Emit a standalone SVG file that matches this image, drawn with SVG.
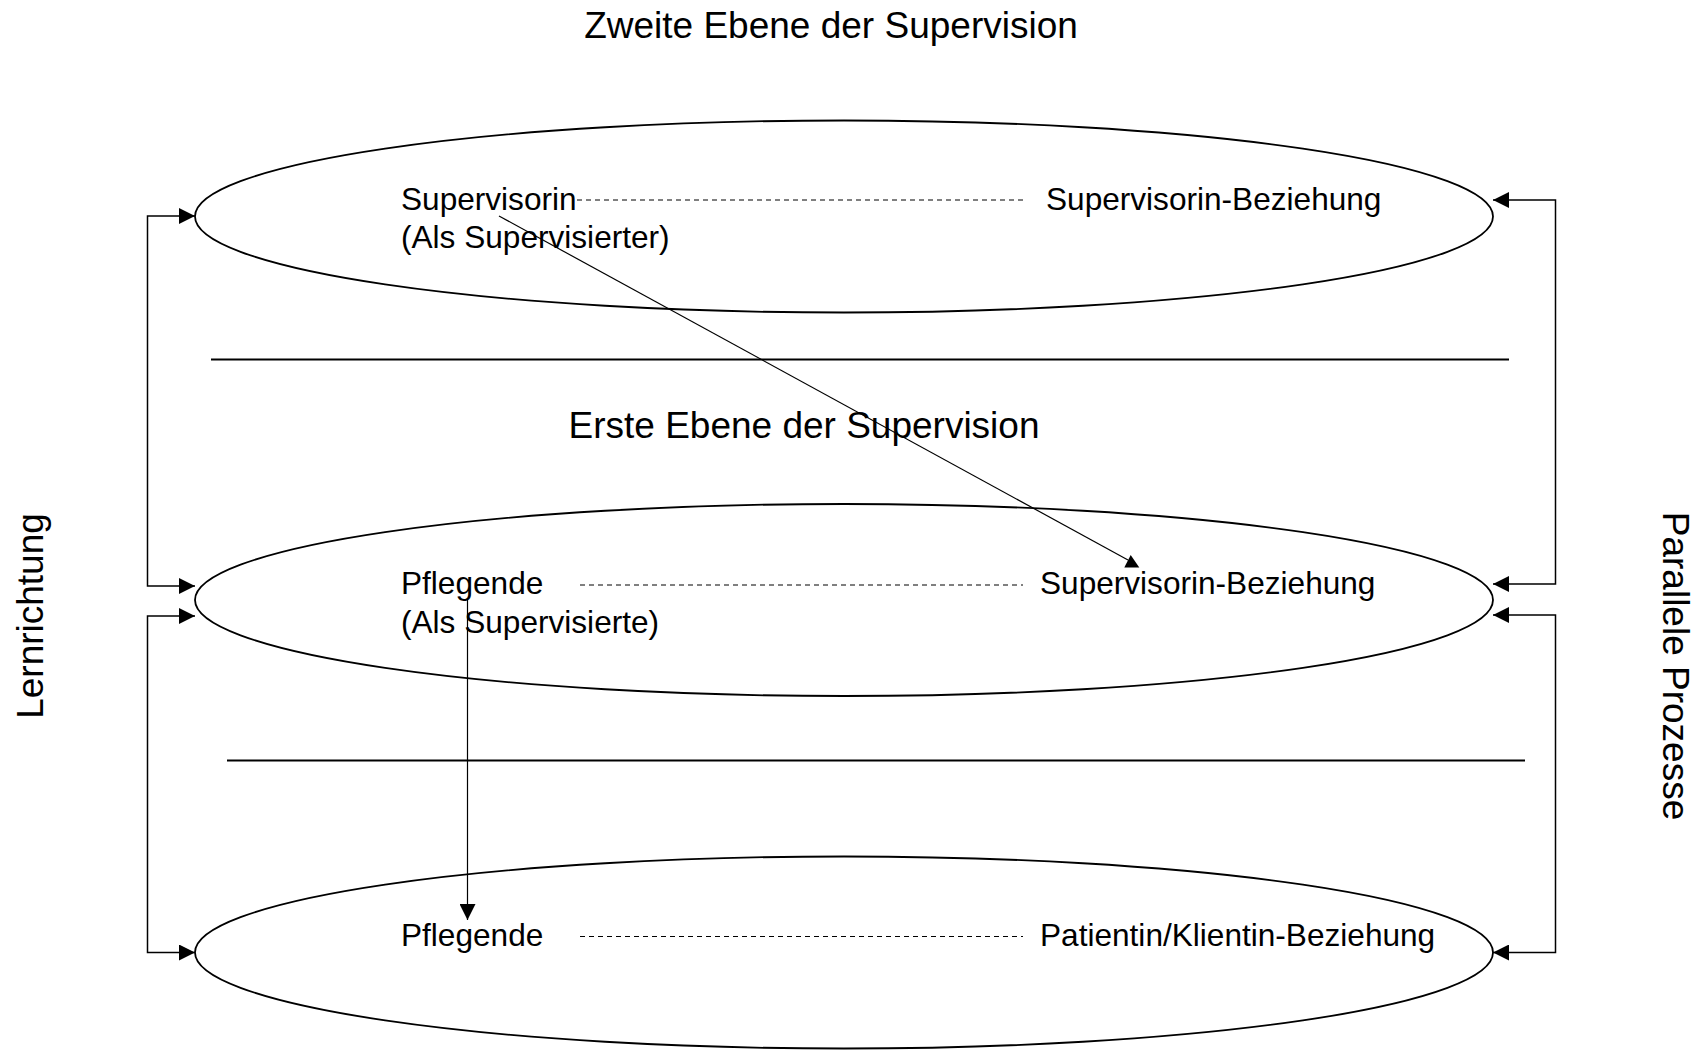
<svg xmlns="http://www.w3.org/2000/svg" width="1703" height="1050" viewBox="0 0 1703 1050">
<style>
text{font-family:"Liberation Sans",Arial,sans-serif;fill:#000}
.t{font-size:37px}
.n{font-size:31.6px}
.e{fill:#fff;stroke:#000;stroke-width:1.8}
.d{stroke:#000;stroke-width:1;stroke-dasharray:5 4;fill:none}
.c{stroke:#000;stroke-width:1.5;fill:none}
.s{stroke:#000;stroke-width:1.8;fill:none}
</style>
<defs>
<marker id="ah" markerUnits="userSpaceOnUse" markerWidth="16" markerHeight="16" viewBox="0 0 15 15" refX="15" refY="7.5" orient="auto-start-reverse">
<path d="M0,0 L15,7.5 L0,15 z" fill="#000"/>
</marker>
</defs>
<rect width="1703" height="1050" fill="#fff"/>
<g id="labels">
<text class="t" x="831" y="38" text-anchor="middle">Zweite Ebene der Supervision</text>
<text class="t" x="804" y="438" text-anchor="middle">Erste Ebene der Supervision</text>
<text class="t" transform="translate(43,616) rotate(-90)" text-anchor="middle">Lernrichtung</text>
<text class="t" transform="translate(1663,666) rotate(90)" text-anchor="middle">Parallele Prozesse</text>
</g>
<g id="ellipse1">
<ellipse class="e" cx="844" cy="216.5" rx="649" ry="96"/>
<text class="n" x="401" y="210">Supervisorin</text>
<text class="n" x="401" y="248">(Als Supervisierter)</text>
<text class="n" x="1046" y="210">Supervisorin-Beziehung</text>
<line class="d" x1="577" y1="200" x2="1023" y2="200"/>
</g>
<g id="ellipse2">
<ellipse class="e" cx="844" cy="600" rx="649" ry="96"/>
<text class="n" x="401" y="593.5">Pflegende</text>
<text class="n" x="401" y="632.5">(Als Supervisierte)</text>
<text class="n" x="1040" y="594">Supervisorin-Beziehung</text>
<line class="d" x1="580" y1="585" x2="1023" y2="585"/>
</g>
<g id="ellipse3">
<ellipse class="e" cx="844" cy="952.5" rx="649" ry="96"/>
<text class="n" x="401" y="945.5">Pflegende</text>
<text class="n" x="1040" y="945.5">Patientin/Klientin-Beziehung</text>
<line class="d" x1="580" y1="936.5" x2="1023" y2="936.5"/>
</g>
<g id="separators">
<line class="s" x1="211" y1="359.5" x2="1509" y2="359.5"/>
<line class="s" x1="227" y1="760.5" x2="1525" y2="760.5"/>
</g>
<g id="connectors">
<path class="c" d="M195,586 H147.5 V216 H195" marker-start="url(#ah)" marker-end="url(#ah)"/>
<path class="c" d="M195,616 H147.5 V952.5 H195" marker-start="url(#ah)" marker-end="url(#ah)"/>
<path class="c" d="M1493,200 H1555.5 V584 H1493" marker-start="url(#ah)" marker-end="url(#ah)"/>
<path class="c" d="M1493,615 H1555.5 V952.5 H1493" marker-start="url(#ah)" marker-end="url(#ah)"/>
<line x1="467.5" y1="600" x2="467.5" y2="920" stroke="#000" stroke-width="1.2" marker-end="url(#ah)"/>
<line x1="499" y1="216" x2="1128" y2="560" stroke="#000" stroke-width="1.2"/>
<polygon points="1130.7,555 1124.3,567.5 1139.3,567.5" fill="#000"/>
</g>
</svg>
